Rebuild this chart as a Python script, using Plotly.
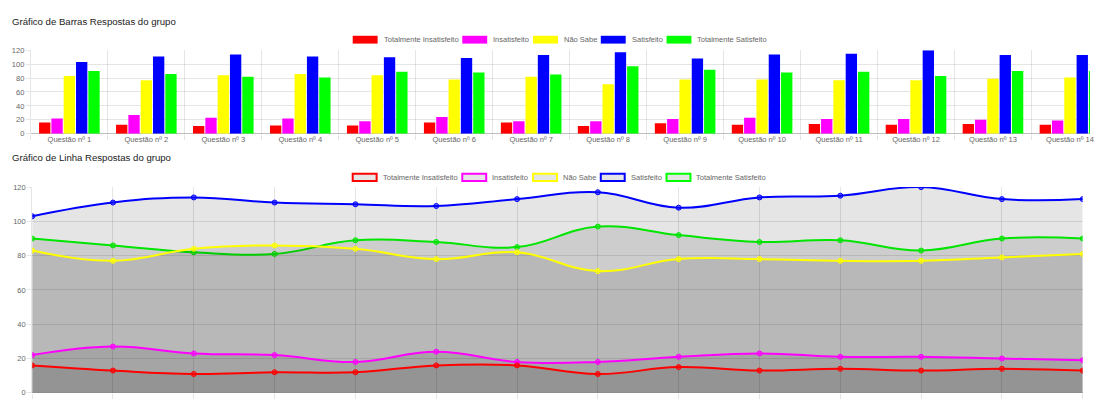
import plotly.graph_objects as go

# ---------------- data ----------------
categorias = ["Questão nº 1", "Questão nº 2", "Questão nº 3", "Questão nº 4", "Questão nº 5",
              "Questão nº 6", "Questão nº 7", "Questão nº 8", "Questão nº 9", "Questão nº 10",
              "Questão nº 11", "Questão nº 12", "Questão nº 13", "Questão nº 14"]
series_nomes = ["Totalmente Insatisfeito", "Insatisfeito", "Não Sabe", "Satisfeito", "Totalmente Satisfeito"]
totalmente_insatisfeito = [16, 13, 11, 12, 12, 16, 16, 11, 15, 13, 14, 13, 14, 13]
insatisfeito = [22, 27, 23, 22, 18, 24, 18, 18, 21, 23, 21, 21, 20, 19]
nao_sabe = [83, 77, 84, 86, 84, 78, 82, 71, 78, 78, 77, 77, 79, 81]
satisfeito = [103, 111, 114, 111, 110, 109, 113, 117, 108, 114, 115, 120, 113, 113]
totalmente_satisfeito = [90, 86, 82, 81, 89, 88, 85, 97, 92, 88, 89, 83, 90, 90]
y_ticks = [0, 20, 40, 60, 80, 100, 120]
titulo_barras = "Gráfico de Barras Respostas do grupo"
titulo_linhas = "Gráfico de Linha Respostas do grupo"

# ---------------- styles ----------------
valores = [totalmente_insatisfeito, insatisfeito, nao_sabe, satisfeito, totalmente_satisfeito]
cores = ["#FF0000", "#FF00FF", "#FFFF00", "#0000FF", "#00FF00"]
cores_rgba = ["rgba(255,0,0,0.55)", "rgba(255,0,255,0.55)", "rgba(255,255,0,0.55)",
              "rgba(0,0,255,0.55)", "rgba(0,255,0,0.55)"]
FONT = "Liberation Sans, Arial, Helvetica, sans-serif"
GRID = "rgba(0,0,0,0.1)"
ZERO = "rgba(0,0,0,0.25)"
TICKC = "#666666"
W, H = 1094, 403


def px(x):
    return x / W


def py(y):
    return 1 - y / H


fig = go.Figure()

# bar chart
for nome, vals, cor in zip(series_nomes, valores, cores):
    fig.add_trace(go.Bar(x=categorias, y=vals, name=nome, marker=dict(color=cor, line=dict(width=0)),
                         xaxis="x", yaxis="y", showlegend=False))

# line chart (drawn in reverse so the first dataset is on top, like Chart.js)
for nome, vals, cor, cor_a in reversed(list(zip(series_nomes, valores, cores, cores_rgba))):
    fig.add_trace(go.Scatter(x=categorias, y=vals, name=nome, mode="lines+markers",
                             line=dict(color=cor, width=2, shape="spline", smoothing=1.2),
                             marker=dict(size=5, color=cor_a, line=dict(color=cor, width=1)),
                             fill="tozeroy", fillcolor="rgba(0,0,0,0.1)",
                             xaxis="x2", yaxis="y2", showlegend=False))

# axis geometry (pixels)
bar_left, bar_top, bar_bottom = 31, 47.3, 132.7
cat_w = 77.25
line_left, line_right, line_top, line_bottom = 32.3, 1086.7, 187.3, 397.7

axis_common = dict(gridcolor=GRID, gridwidth=1, tickfont=dict(family=FONT, size=7.5, color=TICKC),
                   fixedrange=True)

fig.update_layout(
    width=W, height=H,
    margin=dict(l=0, r=0, t=0, b=0),
    paper_bgcolor="white", plot_bgcolor="white",
    font=dict(family=FONT, color=TICKC),
    barmode="group", bargap=0.2, bargroupgap=0.08,
    xaxis=dict(domain=[px(bar_left), 1.0], anchor="y", type="category",
               range=[-0.5, -0.5 + (W - bar_left) / cat_w],
               tickson="boundaries", showgrid=True, ticks="outside", ticklen=5,
               tickcolor=GRID, showline=False, zeroline=False, **axis_common),
    yaxis=dict(domain=[py(bar_bottom), py(bar_top)], anchor="x", range=[0, 120],
               tickmode="array", tickvals=y_ticks, showgrid=True, zeroline=True,
               zerolinecolor=ZERO, zerolinewidth=1, ticks="outside", ticklen=4,
               tickcolor=GRID, showline=True, linecolor=GRID, linewidth=1, **axis_common),
    xaxis2=dict(domain=[px(line_left), px(line_right)], anchor="y2", type="category",
                range=[0, len(categorias) - 1], showgrid=True, ticks="outside", ticklen=5,
                tickcolor=GRID, showticklabels=False, showline=False, zeroline=False, **axis_common),
    yaxis2=dict(domain=[py(line_bottom), py(line_top)], anchor="x2", range=[0, 120],
                tickmode="array", tickvals=y_ticks, showgrid=True, zeroline=True,
                zerolinecolor=ZERO, zerolinewidth=1, ticks="outside", ticklen=4,
                tickcolor=GRID, showline=True, linecolor=GRID, linewidth=1, **axis_common),
)

shapes = []
annotations = []

# titles
for texto, y in [(titulo_barras, 18), (titulo_linhas, 157)]:
    annotations.append(dict(text=texto, x=px(10), y=py(y), xref="paper", yref="paper",
                            xanchor="left", yanchor="middle", showarrow=False,
                            font=dict(family=FONT, size=9.6, color="#222222")))

# legends
leg_bar_x = [354, 464, 535, 603, 669]
leg_line_x = [353, 463, 534, 602, 668]
box_w = 25
for nome, cor, xb, xl in zip(series_nomes, cores, leg_bar_x, leg_line_x):
    # bar legend: solid boxes
    shapes.append(dict(type="rect", xref="paper", yref="paper",
                       x0=px(xb), x1=px(xb + box_w), y0=py(40.5), y1=py(32.5),
                       fillcolor=cor, line=dict(width=0)))
    annotations.append(dict(text=nome, x=px(xb + box_w + 4), y=py(36.5), xref="paper", yref="paper",
                            xanchor="left", yanchor="middle", showarrow=False,
                            font=dict(family=FONT, size=7.5, color=TICKC)))
    # line legend: grey boxes with coloured border
    shapes.append(dict(type="rect", xref="paper", yref="paper",
                       x0=px(xl + 1), x1=px(xl + box_w), y0=py(181), y1=py(173.5),
                       fillcolor="rgba(0,0,0,0.1)", line=dict(color=cor, width=2)))
    annotations.append(dict(text=nome, x=px(xl + box_w + 4), y=py(177), xref="paper", yref="paper",
                            xanchor="left", yanchor="middle", showarrow=False,
                            font=dict(family=FONT, size=7.5, color=TICKC)))

fig.update_layout(shapes=shapes, annotations=annotations)

fig.write_html("out.html", config={"displayModeBar": False},
               post_script="document.body.style.margin='0';document.body.style.overflow='hidden';")
